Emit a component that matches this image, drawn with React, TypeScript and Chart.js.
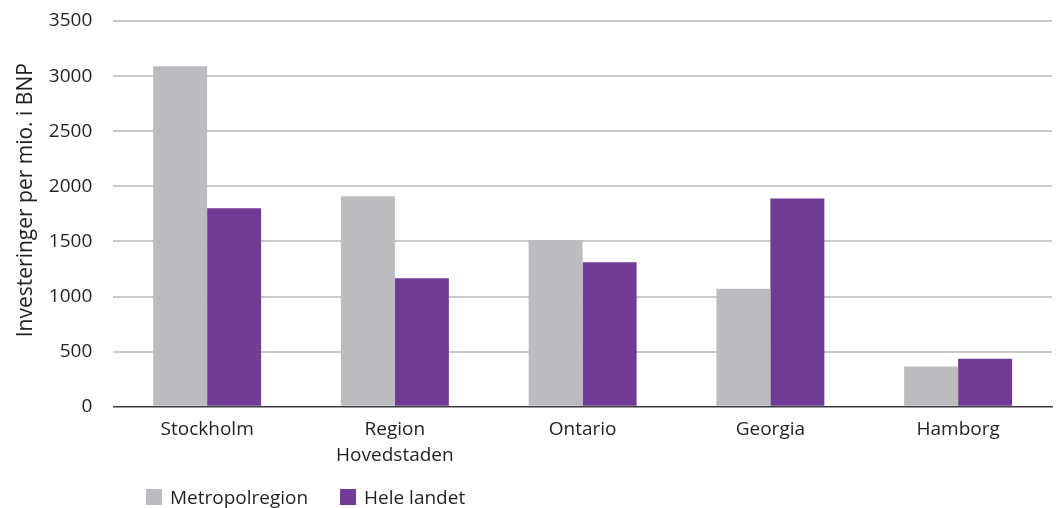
import React, { useEffect, useRef } from "react";
import { Chart, registerables } from "chart.js";

Chart.register(...registerables);

const categories: (string | string[])[] = [
  "Stockholm",
  ["Region", "Hovedstaden"],
  "Ontario",
  "Georgia",
  "Hamborg",
];
const metropolregion = [3090, 1910, 1510, 1070, 365];
const heleLandet = [1800, 1165, 1310, 1890, 435];
const seriesNames = ["Metropolregion", "Hele landet"];
const yTitle = "Investeringer per mio. i BNP";
const colors = ["#bbbcc0", "#713a94"];

const FONT = "'Open Sans', 'Noto Sans', sans-serif";

export default function App() {
  const ref = useRef<HTMLCanvasElement | null>(null);

  useEffect(() => {
    document.body.style.margin = "0";
    if (!ref.current) return;
    const chart = new Chart(ref.current, {
      type: "bar",
      data: {
        labels: categories,
        datasets: [
          {
            label: seriesNames[0],
            data: metropolregion,
            backgroundColor: colors[0],
            barPercentage: 1,
            categoryPercentage: 0.575,
          },
          {
            label: seriesNames[1],
            data: heleLandet,
            backgroundColor: colors[1],
            barPercentage: 1,
            categoryPercentage: 0.575,
          },
        ],
      },
      options: {
        animation: false,
        responsive: false,
        maintainAspectRatio: false,
        layout: { padding: { top: 21, right: 6, bottom: 30, left: 13 } },
        plugins: {
          legend: { display: false },
          tooltip: { enabled: false },
        },
        scales: {
          x: {
            grid: { display: false, drawTicks: false },
            border: { display: true, color: "#3c3c3c", width: 1.5 },
            ticks: {
              color: "#231f20",
              font: { family: FONT, size: 19, lineHeight: 1.35 },
              padding: 10,
              maxRotation: 0,
            },
          },
          y: {
            min: 0,
            max: 3500,
            border: { display: false },
            grid: {
              drawTicks: true,
              tickLength: 21,
              tickColor: "rgba(0,0,0,0)",
              lineWidth: 2,
              color: (ctx: any) =>
                ctx.tick && ctx.tick.value === 0 ? "rgba(0,0,0,0)" : "#c9cacc",
            },
            ticks: {
              stepSize: 500,
              color: "#231f20",
              font: { family: FONT, size: 19 },
              padding: 0,
              callback: (v: any) => String(v),
            },
            title: {
              display: true,
              text: "     " + yTitle,
              color: "#231f20",
              font: { family: FONT, size: 21 },
              padding: { top: 0, bottom: 10.6 },
            },
          },
        },
      },
    });
    return () => chart.destroy();
  }, []);

  const legendItem = (i: number, left: number) => (
    <div
      key={i}
      style={{
        position: "absolute",
        left,
        top: 484,
        display: "flex",
        alignItems: "center",
        fontFamily: FONT,
        fontSize: 19,
        color: "#231f20",
        whiteSpace: "nowrap",
      }}
    >
      <span
        style={{
          display: "inline-block",
          width: 16,
          height: 16,
          background: colors[i],
          marginRight: 8,
        }}
      />
      <span>{seriesNames[i]}</span>
    </div>
  );

  return (
    <div style={{ position: "absolute", left: 0, top: 0, width: 1058, height: 508, background: "#fff" }}>
      <canvas ref={ref} width={1058} height={508} style={{ display: "block" }} />
      {legendItem(0, 146)}
      {legendItem(1, 340)}
    </div>
  );
}
